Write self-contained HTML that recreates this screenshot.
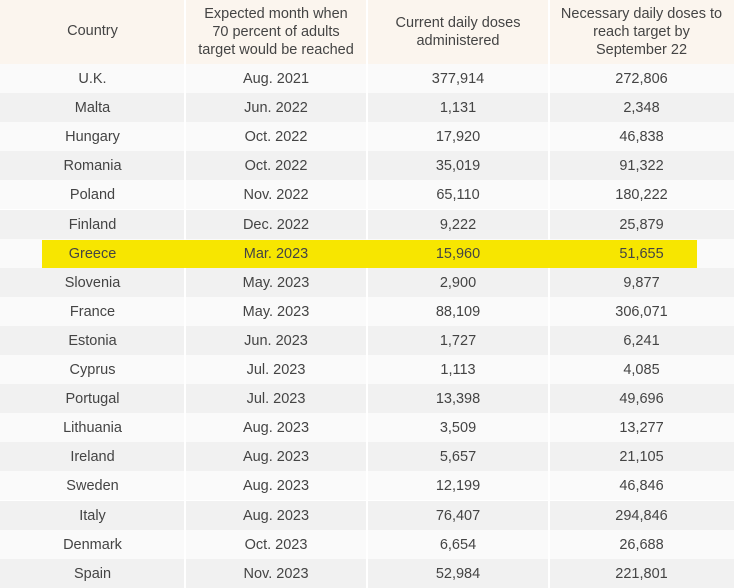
<!DOCTYPE html>
<html><head><style>
body{margin:0;width:734px;height:588px;overflow:hidden;background:#fff;font-family:"Liberation Sans",sans-serif;color:#444;}
.hdr{position:absolute;left:0;top:0;width:734px;height:64px;background:#fbf5ee;}
.c{position:absolute;text-align:center;font-size:14.5px;}
.row{position:absolute;left:0;width:734px;height:29.1px;}
.vl{position:absolute;top:0;width:2px;height:588px;background:#fff;}
.hl{position:absolute;left:42px;width:655px;background:#f7e600;z-index:1;}
</style></head><body>
<div class="hdr"></div>
<div id="rows"></div>
<div class="vl" style="left:184px"></div>
<div class="vl" style="left:366px"></div>
<div class="vl" style="left:548px"></div>
<div class="c" style="left:0;width:185px;top:23px;line-height:17px">Country</div>
<div class="c" style="left:185px;width:182px;top:5px;line-height:18px">Expected month when<br>70 percent of adults<br>target would be reached</div>
<div class="c" style="left:367px;width:182px;top:14px;line-height:18px">Current daily doses<br>administered</div>
<div class="c" style="left:549px;width:185px;top:5px;line-height:18px">Necessary daily doses to<br>reach target by<br>September 22</div>
<script>
var d=[["U.K.","Aug. 2021","377,914","272,806"],["Malta","Jun. 2022","1,131","2,348"],["Hungary","Oct. 2022","17,920","46,838"],["Romania","Oct. 2022","35,019","91,322"],["Poland","Nov. 2022","65,110","180,222"],["Finland","Dec. 2022","9,222","25,879"],["Greece","Mar. 2023","15,960","51,655"],["Slovenia","May. 2023","2,900","9,877"],["France","May. 2023","88,109","306,071"],["Estonia","Jun. 2023","1,727","6,241"],["Cyprus","Jul. 2023","1,113","4,085"],["Portugal","Jul. 2023","13,398","49,696"],["Lithuania","Aug. 2023","3,509","13,277"],["Ireland","Aug. 2023","5,657","21,105"],["Sweden","Aug. 2023","12,199","46,846"],["Italy","Aug. 2023","76,407","294,846"],["Denmark","Oct. 2023","6,654","26,688"],["Spain","Nov. 2023","52,984","221,801"]];
var L=[0,185,367,549],W=[185,182,182,185],h="";
d.forEach(function(r,i){var y=64+i*29.1;
h+='<div class="row" style="top:'+y+'px;background:'+(i%2?'#f1f1f1':'#fafafa')+'"></div>';
if(i==6)h+='<div class="hl" style="top:'+(y+1)+'px;height:28px"></div>';
r.forEach(function(t,j){h+='<div class="c" style="z-index:2;left:'+L[j]+'px;width:'+W[j]+'px;top:'+(y+7)+'px;line-height:17px">'+t+'</div>';});});
document.getElementById('rows').innerHTML=h;
</script>
</body></html>
